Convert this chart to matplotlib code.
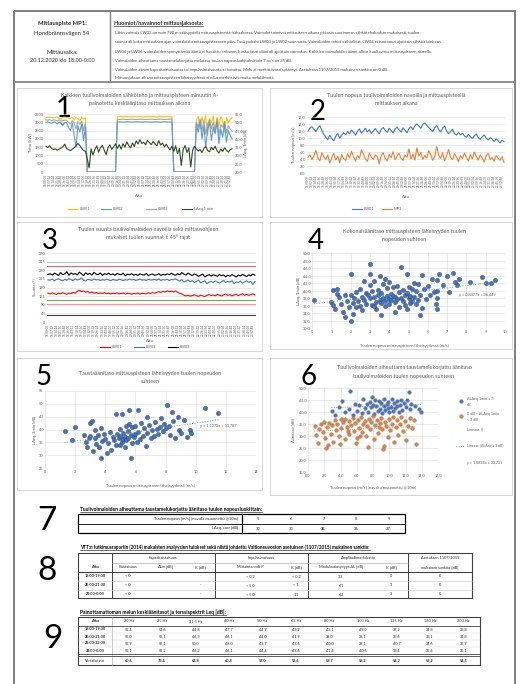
import numpy as np
import matplotlib
matplotlib.use('Agg')
import matplotlib.pyplot as plt
from matplotlib.patches import Rectangle

plt.rcParams['font.family'] = ['Lato', 'DejaVu Sans']

# ---------------- DATA ----------------
# Panel 1: power (kW) of turbines and LAeq,1min (dB)
lw01_power = [3280,3300,3310,3290,3270,3300,3320,3250,3180,3300,3310,3290,3260,3220,3300,3150,3280,3240,3100,3290,3200,3260,
              0,0,0,0,0,0,0,0,0,0,0,0,0,0,0,0,
              3330,3340,3350,3340,3340,3350,3340,3330,3340,3350,3340,3340,3350,3340,3330,3340,3350,3340,3340,3350,3340,3330,3340,3350,3340,3340,3350,3340,3330,3340,
              0,0,0,0,0,0,0,0,0,0,0,0,
              3100,3350,2600,3300,2900,3400,2200,3250,3000,3380,2500,3300,2800,3350,3100,2400,3300,2950,3200,3280]
lw02_power = [3000,3020,2980,2950,3010,3000,2900,3020,2950,2800,3000,2980,2700,2500,2950,2200,1500,2800,2400,2900,1900,2700,
              0,0,0,0,0,0,0,0,0,0,0,0,0,0,0,0,
              3020,3030,3020,3010,3020,3030,3020,3020,3010,3020,3030,3020,3020,3010,3020,3030,3020,3020,3010,3020,3030,3020,3020,3010,3020,3030,3020,3020,3010,3020,
              0,0,0,0,0,0,0,0,0,0,0,0,
              2900,2400,3100,2000,2800,1500,2600,3000,1900,2700,2300,3050,1700,2600,2100,2900,1800,2500,2200,2000]
lw03_power = [3150,3120,3160,3100,3140,3130,3080,3150,3060,3100,3140,3120,3000,2900,3100,2950,2600,3050,2850,3080,2500,2950,
              0,0,0,0,0,0,0,0,0,0,0,0,0,0,0,0,
              3180,3170,3180,3190,3180,3170,3180,3180,3190,3180,3170,3180,3180,3190,3180,3170,3180,3180,3190,3180,3170,3180,3180,3190,3180,3170,3180,3180,3190,3180,
              0,0,0,0,0,0,0,0,0,0,0,0,
              3000,2700,3200,2500,3100,2300,2900,3150,2600,3000,2400,3200,2200,2850,2700,3050,2350,2800,2600,2450]
laeq_1min = [35.5,34.8,35.9,34.2,33.6,34.0,33.1,33.8,34.5,35.2,36.8,34.1,33.5,32.9,33.8,34.6,35.9,37.2,36.0,34.4,33.0,32.5,
             27.8,22.5,34.0,30.2,33.5,35.8,32.0,34.6,36.1,33.2,30.5,34.8,36.4,33.7,35.2,37.0,
             34.2,36.5,33.8,37.1,35.0,38.2,36.0,34.5,37.6,35.3,38.8,36.9,39.5,37.2,38.0,36.4,39.1,37.8,36.5,38.4,37.0,35.8,38.9,36.3,37.5,35.1,36.8,34.9,33.2,35.6,
             32.5,35.8,31.0,34.2,24.0,33.6,36.0,31.8,34.5,23.0,33.0,35.5,
             34.0,32.6,33.5,31.8,34.2,35.5,33.0,32.2,34.8,33.4,35.6,32.8,31.5,33.9,32.4,34.6,33.1,32.0,33.5,34.0]

# Panel 2: wind speed (m/s)
wind_hub = [12.0,12.8,13.2,12.5,11.8,12.9,13.5,12.2,11.0,10.2,9.5,10.8,9.8,9.2,10.5,11.3,10.0,10.8,11.5,10.9,
            11.8,11.2,12.3,11.6,10.8,11.9,12.6,11.4,12.1,12.8,11.7,12.4,11.3,12.0,12.7,11.9,11.2,12.5,13.0,12.2,
            11.6,12.8,12.1,11.4,12.6,13.1,12.3,11.8,12.9,12.2,11.5,12.7,13.2,12.4,13.5,14.0,13.4,12.8,13.9,14.3,
            13.6,13.0,12.4,11.8,12.9,13.6,12.5,11.7,12.8,13.4,12.0,11.2,11.9,12.5,11.3,10.8,11.6,10.9,11.4,10.6,
            10.2,11.0,10.4,9.8,10.6,11.2,10.1,9.6,10.3,10.9,10.0,9.4,10.1,9.7,9.0,9.8,9.2,8.6,9.4,8.9]
wind_mp1 = [4.5,5.2,3.8,4.9,6.5,4.2,3.5,5.8,4.6,3.9,5.1,2.8,4.4,5.6,3.7,4.8,2.9,5.3,4.1,3.6,
            5.5,4.3,6.2,4.7,3.4,5.0,4.2,6.6,5.4,4.0,3.3,5.7,4.5,3.9,5.2,4.6,2.6,4.9,5.8,4.1,
            3.5,5.3,4.4,6.1,3.8,4.9,5.6,4.2,3.6,5.1,4.5,6.9,4.0,5.4,3.7,7.2,4.8,5.9,3.9,5.0,
            4.3,6.4,5.2,3.6,4.7,7.6,5.1,4.2,5.8,3.5,4.9,6.7,4.4,3.8,5.5,4.6,3.2,5.0,4.1,5.7,
            4.5,3.4,5.3,4.0,6.0,4.8,3.7,5.2,4.3,3.1,4.9,5.6,3.9,4.4,3.3,5.0,4.2,3.6,4.7,3.0]

# Panel 3: wind direction (deg)
dir_lw03 = [248,252,245,255,250,243,258,247,251,262,244,256,249,253,246,260,251,242,257,248,
            254,245,259,250,247,256,243,252,248,255,246,251,244,253,249,247,255,241,250,246,
            252,244,249,243,251,247,245,253,242,248,250,244,246,252,243,249,245,251,247,254,
            248,244,252,246,258,250,245,255,248,242,251,246,238,244,250,236,242,247,240,246,
            243,238,248,241,246,236,244,239,247,242,235,245,240,248,243,237,246,241,250,244]
dir_lw02 = [220,218,224,215,222,226,219,214,223,217,228,221,216,225,219,222,230,218,214,223,
            220,217,225,219,222,216,221,218,224,220,215,222,219,217,223,220,216,221,218,225,
            219,222,217,220,224,218,221,216,223,219,220,222,218,224,217,221,219,223,216,222,
            220,226,218,213,221,208,214,219,210,216,206,212,218,204,210,215,200,208,212,205,
            214,209,203,211,217,206,212,208,215,200,210,206,213,202,209,215,207,211,196,212]
dir_lw01 = [150,146,152,148,144,150,147,153,149,145,151,148,155,150,160,166,158,162,155,160,
            152,157,150,154,148,152,149,153,147,151,146,150,148,152,147,149,151,146,150,148,
            145,149,147,151,146,150,148,147,152,149,153,150,155,158,154,160,156,163,158,161,
            157,162,155,150,146,140,136,139,135,138,142,137,134,140,136,133,139,143,138,141,
            137,144,140,136,142,146,139,143,137,141,145,138,142,147,140,144,139,143,146,141]
dir_limits = [315, 292, 117, 94, 38]
dir_limit_colors = ['#9dc3e6', '#ff5b5b', '#70ad47', '#ff8fa3', '#404040']

start_minutes = 18 * 60
step_minutes = 3.6
time_labels = []
for i in range(0, len(laeq_1min), 2):
    m = start_minutes + i * step_minutes
    hh = int(m // 60) % 24
    mm = int(m % 60)
    ss = int(round((m * 60) % 60))
    time_labels.append(f"{hh:02d}:{mm:02d}:{ss:02d}")

# Panel 4: total level vs wind speed at measuring point
p4_x = [0.1,1.0,1.1,1.1,1.2,1.3,1.4,1.5,1.6,1.7,
        1.8,1.9,2.0,2.0,2.1,2.1,2.2,2.3,2.3,2.4,
        2.5,2.5,2.6,2.6,2.7,2.8,2.8,2.9,3.0,3.0,
        3.0,3.1,3.1,3.2,3.2,3.3,3.3,3.4,3.4,3.5,
        3.5,3.6,3.6,3.7,3.7,3.8,3.8,3.9,3.9,4.0,
        4.0,4.0,4.1,4.1,4.2,4.2,4.3,4.3,4.4,4.4,
        4.5,4.5,4.6,4.6,4.7,4.7,4.8,4.8,4.9,4.9,
        5.0,5.0,5.1,5.1,5.2,5.2,5.3,5.3,5.4,5.4,
        5.5,5.5,5.6,5.7,5.8,5.9,6.0,6.1,6.2,6.3,
        6.4,6.5,6.5,6.6,6.8,7.0,7.1,7.3,7.4,7.5,
        7.6,8.2,8.8,9.0,9.3,9.5,2.0,1.7,3.6,5.6,
        3.0,4.3,2.7,3.8,4.9,5.7,6.5,6.5,1.3,3.2]
p4_y = [37.5,37.0,40.2,36.2,35.0,39.0,38.2,36.5,34.3,38.8,
        37.3,35.6,44.5,38.9,36.8,33.7,38.0,35.5,39.6,37.2,
        36.0,40.5,38.3,34.8,37.6,39.3,36.4,38.7,47.0,41.5,
        37.9,36.1,39.8,42.6,38.4,37.0,35.2,40.1,38.9,44.0,
        37.5,36.6,39.4,41.8,38.1,37.2,35.9,40.6,38.6,37.8,
        42.2,36.4,39.1,37.4,38.5,40.9,36.9,38.2,41.3,37.7,
        39.7,35.6,38.0,46.2,37.3,40.2,38.8,36.2,39.4,44.3,
        37.9,41.0,36.8,38.6,40.4,37.1,42.1,38.3,36.5,39.9,
        37.6,41.7,38.7,35.3,40.3,37.8,41.1,38.9,43.2,39.5,
        36.3,42.7,40.0,44.4,41.5,43.9,39.6,44.7,42.3,41.6,
        43.0,42.2,43.6,42.0,41.9,42.8,31.8,33.0,33.4,33.6,
        44.3,34.4,42.6,43.1,35.0,44.2,35.2,38.0,40.5,36.0]

# Panel 5: background level vs wind speed
p5_x = [1.3,2.0,2.6,2.7,2.8,2.9,3.0,3.0,3.1,3.2,
        3.3,3.3,3.4,3.5,3.6,3.7,3.7,3.8,3.9,4.0,
        4.1,4.2,4.3,4.4,4.5,4.6,4.7,4.7,4.8,4.9,
        5.0,5.0,5.0,5.1,5.1,5.2,5.2,5.3,5.3,5.4,
        5.4,5.5,5.5,5.6,5.6,5.7,5.7,5.8,5.8,5.9,
        6.0,6.0,6.1,6.2,6.2,6.3,6.4,6.5,6.6,6.7,
        6.8,6.8,6.9,7.0,7.1,7.2,7.3,7.4,7.5,7.6,
        7.7,7.8,7.9,8.0,8.1,8.2,8.3,8.4,8.5,8.6,
        8.8,8.9,9.0,9.2,9.4,9.6,9.7,10.6,11.5,1.8]
p5_y = [39.5,41.0,38.0,35.2,33.0,36.8,42.5,37.5,43.4,31.5,
        36.6,39.8,34.2,37.9,33.3,28.9,40.6,35.5,38.4,36.2,
        31.0,34.8,39.2,32.2,37.0,35.9,46.2,33.9,38.3,36.7,
        34.1,37.6,40.2,46.0,35.3,36.3,38.8,33.0,37.1,35.8,
        41.5,36.5,39.5,47.5,42.0,28.9,37.8,40.8,34.6,36.9,
        41.2,38.1,35.0,47.5,39.0,36.2,42.4,37.4,40.5,33.4,
        45.0,38.6,41.8,36.8,39.9,37.3,43.0,40.2,38.4,41.0,
        44.5,39.4,42.0,40.6,49.5,41.5,38.0,47.0,43.3,36.8,
        45.0,40.0,38.5,43.8,37.2,39.8,38.6,48.2,46.5,36.0]

# Panel 6: corrected turbine level vs hub wind speed (converted @10 m)
p6_blue_x = [2.9,3.8,4.5,5.0,5.5,5.2,6.0,6.3,6.6,7.0,
             7.2,7.4,7.6,7.8,8.0,8.1,8.3,8.4,8.6,8.7,
             8.9,9.0,9.1,9.3,9.4,9.5,9.7,9.8,9.9,10.0,
             10.2,10.3,10.4,10.6,10.7,10.9,11.0,11.2,11.3,11.5,
             11.6,11.8,12.0,12.2,12.5,12.7,12.4,13.2,13.6,13.9,
             6.8,7.9,5.8,4.2,3.3]
p6_blue_y = [40.5,42.0,39.8,41.2,38.6,48.9,40.3,42.8,39.5,41.6,
             43.5,40.0,44.2,41.9,43.0,39.2,45.0,42.4,40.6,44.6,
             41.3,43.8,39.7,42.7,45.3,40.9,43.3,41.8,44.0,39.9,
             42.2,45.6,40.4,43.6,41.5,44.4,42.6,40.2,43.1,45.0,
             41.0,43.9,42.0,44.8,41.4,43.2,48.2,42.5,41.2,40.0,
             45.5,46.3,43.5,44.4,38.8]
p6_orange_x = [0.8,1.0,1.2,1.4,1.6,1.8,2.0,2.1,2.3,2.5,
               2.6,2.8,3.0,3.1,3.3,3.5,3.6,3.8,4.0,4.1,
               4.3,4.5,4.6,4.8,5.0,5.1,5.3,5.5,5.6,5.8,
               6.0,6.1,6.3,6.5,6.6,6.8,7.0,7.1,7.3,7.5,
               7.6,7.8,8.0,8.1,8.3,8.5,8.6,8.8,9.0,9.1,
               9.3,9.5,9.6,9.8,10.0,10.1,10.3,10.5,10.6,10.8,
               11.0,11.1,11.3,11.5,11.7,11.9,12.1,12.3,12.5,12.8,
               13.0,13.3,9.2,7.4,5.9,3.9,2.2,4.9,6.4,8.7]
p6_orange_y = [34.2,30.5,27.0,33.0,35.1,31.8,36.0,29.2,33.7,26.2,
               35.5,31.0,34.4,27.4,36.5,32.5,34.9,29.9,36.9,33.2,
               35.7,28.6,37.2,33.9,36.2,30.8,34.7,37.6,32.2,35.3,
               29.0,36.6,33.5,37.9,31.5,35.0,36.4,30.2,34.1,37.0,
               32.8,35.8,38.2,28.8,34.6,36.8,31.2,35.4,37.5,33.0,
               26.0,36.0,34.3,29.6,37.1,32.5,35.2,38.0,27.6,33.8,
               36.5,30.6,34.9,37.8,32.0,36.2,28.4,34.0,37.3,33.4,
               36.7,26.6,24.6,25.3,27.2,26.8,24.8,32.0,30.0,33.6]

# Tables
t7_wind = ['5', '6', '7', '8', '9']
t7_level = ['32', '33', '35', '36', '37']
t8_times = ['18:00-19:00', '20:00-21:00', '22:00-0:00']
t8_band = ['< 0', '< 0', '< 0']
t8_band_k = ['-', '-', '-']
t8_imp_p = ['< 0,2', '< 5,0', '< 5,0']
t8_imp_k = ['< 0,2', '< 1', '1,1']
t8_am = ['3,3', '6,1', '6,2']
t8_am_k = ['0', '3', '3']
t8_sanction = ['0', '0', '0']
t9_bands = ['20 Hz', '25 Hz', '31,5 Hz', '40 Hz', '50 Hz', '63 Hz', '80 Hz', '100 Hz', '125 Hz', '160 Hz', '200 Hz']
t9_times = ['18:00-19:00', '20:00-21:00', '21:00-22:00', '23:00-0:00']
t9_leq_1 = ['52,4', '54,6', '44,8', '47,7', '44,9', '43,2', '43,1', '49,0', '37,2', '34,8', '33,8']
t9_leq_2 = ['55,0', '53,1', '46,3', '46,1', '44,0', '41,9', '39,0', '38,1', '35,6', '33,1', '31,8']
t9_leq_3 = ['52,9', '55,1', '50,0', '48,0', '43,7', '43,6', '40,0', '39,1', '40,7', '34,6', '35,9']
t9_leq_4 = ['52,1', '55,2', '46,2', '46,1', '44,4', '43,6', '41,4', '40,6', '38,4', '35,4', '35,1']
t9_ref = ['60,6', '73,4', '64,8', '60,4', '57,0', '58,6', '59,7', '58,2', '54,2', '55,2', '54,5']

# ---------------- FIGURE ----------------
W, H = 526, 684
fig = plt.figure(figsize=(W / 100, H / 100), dpi=100)
fig.patch.set_facecolor('white')
bg = fig.add_axes([0, 0, 1, 1])
bg.set_xlim(0, W)
bg.set_ylim(H, 0)
bg.axis('off')

GRAY = '#595959'
GRID = '#d9d9d9'


def pax(x0, y0, x1, y1):
    a = fig.add_axes([x0 / W, 1 - y1 / H, (x1 - x0) / W, (y1 - y0) / H])
    a.set_facecolor('none')
    return a


def style(a, fs=2.8, xgrid=False):
    for s in a.spines.values():
        s.set_visible(False)
    a.tick_params(length=0, labelsize=fs, colors=GRAY, pad=1.2)
    a.grid(axis='y', color=GRID, lw=0.4)
    if xgrid:
        a.grid(axis='x', color=GRID, lw=0.4)
    a.set_axisbelow(True)


def T(x, y, s, fs=3.4, **kw):
    kw.setdefault('color', GRAY)
    kw.setdefault('va', 'center')
    return bg.text(x, y, s, fontsize=fs, **kw)


def box(x0, y0, x1, y1, ec='#d0d0d0', lw=0.6):
    bg.add_patch(Rectangle((x0, y0), x1 - x0, y1 - y0, fill=False, ec=ec, lw=lw))


def leg_line(x, y, label, color, fs=2.8, lw=0.8):
    bg.plot([x, x + 10], [y, y], color=color, lw=lw)
    T(x + 12, y, label, fs=fs, ha='left')


# outer frame & header
bg.add_patch(Rectangle((14, 11), 501, 690, fill=False, ec='#7f7f7f', lw=1.4))
bg.plot([14, 515], [82, 82], color='#7f7f7f', lw=1.2)
bg.plot([110, 110], [11, 82], color='#7f7f7f', lw=1.0)
T(62, 24, 'Mittauspiste MP1:', fs=4.2, ha='center', color='#262626', weight='bold')
T(62, 33, 'Hondbrännsvägen 54', fs=4.2, ha='center', color='#262626')
T(62, 52, 'Mittausaika:', fs=4.2, ha='center', color='#262626')
T(62, 61, '20.12.2020 klo 18:00-0:00', fs=4.0, ha='center', color='#262626')
underline = []
underline.append(T(114, 23, 'Huomiot/havainnot mittausjaksosta:', fs=4.0, ha='left', color='#262626', weight='bold'))
header_lines = [
    'Lähin voimala LW03 on noin 790 m etäisyydellä mittauspisteestä itäkaakossa. Voimalat toimivat mittauksen aikana pääosin suurimman sähköteholuokan mukaisesti, tuulen',
    'suunta oli koko mittauksen ajan voimaloista mittauspisteeseen päin. Tuuli puhalsi LW03 ja LW02 suunnasta. Voimaloiden tehot vaihtelivat, LW04 ei tuottanut ajoittain sähköä lainkaan.',
    'LW04 ja LW06: voimaloiden synnyttämää ääntä ei havaittu erikseen, koska taustaääni oli ajoittain voimakas. Kaikkien voimaloiden äänet olivat kuultavissa mittauspisteen alueella.',
    'Voimaloiden aiheuttama taustamelukorjattu melutaso tuulen nopeusluokituksittain 7 m/s on 35 dB.',
    'Voimaloiden äänen kapeakaistaisuutta tai impulssimaisuutta ei havaittu. Melu ei merkittävästi sykkinyt. Asetuksen 1107/2015 mukainen sanktio on 0 dB.',
    'Mittausjakson aikana mittauspisteen läheisyydessä ei ollut merkittäviä muita melulähteitä.',
]
for line, yy in zip(header_lines, [33, 42, 52, 61, 70, 78]):
    T(115, yy, line, fs=3.0, ha='left', color='#404040')

# panel boxes
box(17, 88, 262, 217)
box(270, 88, 512, 217)
box(17, 222, 262, 351)
box(270, 222, 512, 349)
box(17, 358, 262, 490)
box(270, 358, 512, 495)

# ---------- Panel 1 ----------
n = len(laeq_1min)
idx = np.arange(n)
a1 = pax(45, 114, 233, 172)
style(a1)
a1.plot(idx, lw01_power, color='#ffc000', lw=0.8)
a1.plot(idx, lw03_power, color='#a5a5a5', lw=0.8)
a1.plot(idx, lw02_power, color='#5b9bd5', lw=0.8)
a1.set_xlim(-0.5, n - 0.5)
a1.set_ylim(0, 3500)
a1.set_yticks(np.arange(0, 3501, 500))
a1.set_xticks(idx[::2])
a1.set_xticklabels(time_labels, rotation=90, fontsize=2.2)
a1.set_ylabel('Teho (kW)', fontsize=3.0, color=GRAY, labelpad=1.5)
a1b = a1.twinx()
a1b.set_facecolor('none')
for s in a1b.spines.values():
    s.set_visible(False)
a1b.plot(idx, laeq_1min, color='#2f4a1e', lw=0.8)
a1b.set_ylim(20, 55)
a1b.set_yticks(np.arange(20, 56, 5))
a1b.set_yticklabels([f'{v:.1f}'.replace('.', ',') for v in np.arange(20, 56, 5)])
a1b.tick_params(length=0, labelsize=2.8, colors=GRAY, pad=1.2)
a1b.set_ylabel('LAeq, 1min (dB)', fontsize=3.0, color=GRAY, labelpad=1.5)
T(140, 96, 'Kaikkien tuulivoimaloiden sähköteho ja mittauspisteen minuutin A-', fs=3.9, ha='center')
T(140, 103.5, 'painotettu keskiäänitaso mittauksen aikana', fs=3.9, ha='center')
T(139, 196, 'Aika', fs=3.0, ha='center')
leg_line(68, 209, 'LW01', '#ffc000')
leg_line(101, 209, 'LW02', '#5b9bd5')
leg_line(146, 209, 'LW03', '#a5a5a5')
leg_line(182, 209, 'LAeq,1 min', '#2f4a1e')
T(64, 109, '1', fs=20, ha='center', color='black')

# ---------- Panel 2 ----------
a2 = pax(307, 117, 505, 173)
style(a2)
a2.plot(idx, wind_hub, color='#4472c4', lw=0.8)
a2.plot(idx, wind_mp1, color='#ed7d31', lw=0.8)
a2.set_xlim(-0.5, n - 0.5)
a2.set_ylim(0, 16)
a2.set_yticks(np.arange(0, 17, 2))
a2.set_yticklabels([f'{v:.1f}'.replace('.', ',') for v in np.arange(0, 17, 2)])
a2.set_xticks(idx[::2])
a2.set_xticklabels(time_labels, rotation=90, fontsize=2.2)
a2.set_ylabel('Tuulen nopeus (m/s)', fontsize=3.0, color=GRAY, labelpad=1.5)
T(396, 96, 'Tuulen nopeus tuulivoimaloiden navoilla ja mittauspisteellä', fs=3.9, ha='center')
T(396, 103.5, 'mittauksen aikana', fs=3.9, ha='center')
T(406, 197, 'Aika', fs=3.0, ha='center')
leg_line(352, 209, 'LW01', '#4472c4')
leg_line(382, 209, 'MP1', '#ed7d31')
T(318, 112, '2', fs=20, ha='center', color='black')

# ---------- Panel 3 ----------
a3 = pax(47, 253, 256, 322)
style(a3)
for lvl, c in zip(dir_limits, dir_limit_colors):
    a3.axhline(lvl, color=c, lw=0.8)
a3.plot(idx, dir_lw01, color='#ff0000', lw=0.8)
a3.plot(idx, dir_lw02, color='#4472c4', lw=0.8)
a3.plot(idx, dir_lw03, color='#000000', lw=0.8)
a3.set_xlim(-0.5, n - 0.5)
a3.set_ylim(0, 360)
a3.set_yticks(np.arange(0, 361, 45))
a3.set_xticks(idx[::2])
a3.set_xticklabels(time_labels, rotation=90, fontsize=2.2)
a3.set_ylabel('Suunta (°)', fontsize=3.0, color=GRAY, labelpad=1.5)
T(148, 230, 'Tuulen suunta tuulivoimaloiden navoilla sekä mittausohjeen', fs=3.9, ha='center')
T(148, 237.5, 'mukaiset tuulen suunnat ± 45° rajat', fs=3.9, ha='center')
T(150, 341.5, 'Aika', fs=3.0, ha='center')
leg_line(100, 347, 'LW01', '#ff0000')
leg_line(134, 347, 'LW02', '#4472c4')
leg_line(168, 347, 'LW03', '#000000')
T(50, 241, '3', fs=20, ha='center', color='black')

# ---------- Panel 4 ----------
a4 = pax(312, 253, 505, 328)
style(a4, xgrid=True)
a4.scatter(p4_x, p4_y, s=9, color='#4472c4', edgecolors='#203864', linewidths=0.3, zorder=3)
c4 = np.polyfit(p4_x, p4_y, 1)
xx4 = np.array([min(p4_x), max(p4_x)])
a4.plot(xx4, np.polyval(c4, xx4), ls=':', color='#5b9bd5', lw=0.7, zorder=4)
a4.text(7.6, 38.8, 'y = 0,8477x + 36,449', fontsize=2.8, color=GRAY, va='center')
a4.set_xlim(0, 10)
a4.set_ylim(30, 50)
a4.set_xticks(np.arange(0, 11, 1))
a4.set_yticks(np.arange(30, 51, 2))
a4.set_yticklabels([f'{v:.1f}'.replace('.', ',') for v in np.arange(30, 51, 2)])
a4.set_ylabel('LAeq, 1min (dB)', fontsize=3.0, color=GRAY, labelpad=1.5)
T(404, 232, 'Kokonaisäänitaso mittauspisteen läheisyyden tuulen', fs=3.9, ha='center')
T(404, 239.5, 'nopeuden suhteen', fs=3.9, ha='center')
T(404, 346, 'Tuulen nopeus mittauspisteen läheisyydessä (m/s)', fs=3.0, ha='center')
T(316, 241, '4', fs=20, ha='center', color='black')

# ---------- Panel 5 ----------
a5 = pax(45, 391, 256, 468)
style(a5, xgrid=True)
a5.scatter(p5_x, p5_y, s=9, color='#4472c4', edgecolors='#203864', linewidths=0.3, zorder=3)
c5 = np.polyfit(p5_x, p5_y, 1)
xx5 = np.array([min(p5_x), max(p5_x)])
a5.plot(xx5, np.polyval(c5, xx5), ls=':', color='#5b9bd5', lw=0.7, zorder=4)
a5.text(10.3, 41.4, 'y = 1,1372x + 31,787', fontsize=2.8, color=GRAY, va='center')
a5.set_xlim(0, 14)
a5.set_ylim(25, 55)
a5.set_xticks(np.arange(0, 15, 2))
a5.set_yticks(np.arange(25, 56, 5))
a5.set_ylabel('LAeq, 1min (dB)', fontsize=3.0, color=GRAY, labelpad=1.5)
T(150, 373, 'Taustaäänitaso mittauspisteen läheisyyden tuulen nopeuden', fs=3.9, ha='center')
T(150, 381.5, 'suhteen', fs=3.9, ha='center')
T(150, 486, 'Tuulen nopeus mittauspisteen läheisyydessä (m/s)', fs=3.0, ha='center')
T(44, 377, '5', fs=20, ha='center', color='black')

# ---------- Panel 6 ----------
a6 = pax(308, 388, 438, 472)
style(a6, xgrid=True)
a6.scatter(p6_blue_x, p6_blue_y, s=7, color='#4472c4', edgecolors='#7f7f7f', linewidths=0.3, zorder=3)
a6.scatter(p6_orange_x, p6_orange_y, s=7, color='#ed7d31', edgecolors='#7f7f7f', linewidths=0.3, zorder=3)
cb = np.polyfit(p6_blue_x, p6_blue_y, 1)
co = np.polyfit(p6_orange_x, p6_orange_y, 1)
xb = np.array([min(p6_blue_x), max(p6_blue_x)])
xo = np.array([min(p6_orange_x), max(p6_orange_x)])
a6.plot(xb, np.polyval(cb, xb), ls=':', color='#4472c4', lw=0.6, zorder=4)
a6.plot(xo, np.polyval(co, xo), ls=':', color='#ed7d31', lw=0.6, zorder=4)
a6.set_xlim(0, 16)
a6.set_ylim(15, 50)
a6.set_xticks(np.arange(0, 17, 2))
a6.set_xticklabels([f'{v:.1f}'.replace('.', ',') for v in np.arange(0, 17, 2)])
a6.set_yticks(np.arange(15, 51, 5))
a6.set_yticklabels([f'{v:.1f}'.replace('.', ',') for v in np.arange(15, 51, 5)])
a6.set_ylabel('Äänitaso (dB)', fontsize=3.0, color=GRAY, labelpad=1.5)
T(404, 368, 'Tuulivoimaloiden aiheuttama taustamelukorjattu äänitaso', fs=3.9, ha='center')
T(404, 376.5, 'tuulivoimaloiden tuulen nopeuden suhteen', fs=3.9, ha='center')
T(373, 488, 'Tuulen nopeus [m/s] (navalta muunnettu @10m)', fs=3.0, ha='center')
T(309, 377, '6', fs=20, ha='center', color='black')
bg.scatter([461], [401], s=7, color='#4472c4', edgecolors='#7f7f7f', linewidths=0.3)
T(467, 399, 'ΔLAeq,1min ≥ 3', fs=2.7, ha='left')
T(467, 405, 'dB', fs=2.7, ha='left')
bg.scatter([461], [416], s=7, color='#ed7d31', edgecolors='#7f7f7f', linewidths=0.3)
T(467, 414, '0 dB < ΔLAeq,1min', fs=2.7, ha='left')
T(467, 420, '< 3 dB', fs=2.7, ha='left')
T(467, 429, 'Lineaar. ()', fs=2.7, ha='left')
bg.plot([456, 465], [446, 446], color='#4472c4', lw=0.6, ls=':')
T(467, 446, 'Lineaar. (ΔLAeq ≥ 3 dB)', fs=2.5, ha='left')
T(467, 463, 'y = 1,0834x + 33,711', fs=2.7, ha='left')

# ---------- Table 7 ----------
T(47, 521, '7', fs=24, ha='center', color='black')
underline.append(T(80, 509, 'Tuulivoimaloiden aiheuttama taustamelukorjattu äänitaso tuulen nopeusluokittain:', fs=3.6, ha='left', color='black', weight='bold'))
box(78, 514, 405, 533, ec='black', lw=0.9)
bg.plot([78, 405], [523.5, 523.5], color='black', lw=0.6)
bg.plot([242, 242], [514, 533], color='black', lw=0.9)
T(238, 519, 'Tuulen nopeus [m/s] (navalla muunnettu @10m)', fs=2.9, ha='right', color='#262626')
T(238, 528.5, 'LAeq, corr [dB]', fs=2.9, ha='right', color='#262626')
cw7 = (405 - 242) / len(t7_wind)
for i, (w, l) in enumerate(zip(t7_wind, t7_level)):
    cx = 242 + cw7 * (i + 0.5)
    T(cx, 519, w, fs=3.0, ha='center', color='#262626')
    T(cx, 528.5, l, fs=3.0, ha='center', color='#262626', weight='bold' if w == '7' else 'normal')

# ---------- Table 8 ----------
T(47, 571, '8', fs=24, ha='center', color='black')
underline.append(T(80, 547, 'VTT:n tutkimusraportin (2014) mukaisten analyysien tulokset sekä niistä johdettu Valtioneuvoston asetuksen (1107/2015) mukainen sanktio:', fs=3.35, ha='left', color='black', weight='bold'))
box(78, 553, 472, 598, ec='#404040', lw=0.8)
for xv in [112, 215, 308, 408]:
    bg.plot([xv, xv], [553, 598], color='#404040', lw=0.7)
bg.plot([112, 408], [562.5, 562.5], color='#a0a0a0', lw=0.4)
bg.plot([78, 472], [571.5, 571.5], color='#404040', lw=0.8)
bg.plot([78, 472], [580.5, 580.5], color='#bfbfbf', lw=0.4)
bg.plot([78, 472], [589.5, 589.5], color='#bfbfbf', lw=0.4)
T(163, 558, 'Kapeakaistaisuus', fs=2.8, ha='center', color='#262626')
T(261, 558, 'Impulssimaisuus', fs=2.8, ha='center', color='#262626')
T(358, 558, 'Amplitudimodulaatio', fs=2.8, ha='center', color='#262626')
T(440, 558, 'Asetuksen 1107/2015', fs=2.8, ha='center', color='#262626')
T(440, 567, 'mukainen sanktio [dB]', fs=2.8, ha='center', color='#262626')
T(95, 567, 'Aika', fs=2.8, ha='center', color='#262626', weight='bold')
T(128, 567, 'Kaistaisuus', fs=2.8, ha='center', color='#262626')
T(166, 567, r'$\Delta L_{ta}$ [dB]', fs=2.8, ha='center', color='#262626')
T(200, 567, 'K [dB]', fs=2.8, ha='center', color='#262626')
T(250, 567, 'Mittaintervalli P', fs=2.8, ha='center', color='#262626')
T(296, 567, 'K [dB]', fs=2.8, ha='center', color='#262626')
T(341, 567, 'Modulaatiosyvyys ΔL [dB]', fs=2.8, ha='center', color='#262626')
T(391, 567, 'K [dB]', fs=2.8, ha='center', color='#262626')
for i, yy in enumerate([576, 585, 594]):
    T(95, yy, t8_times[i], fs=2.7, ha='center', color='#262626', weight='bold')
    T(128, yy, t8_band[i], fs=2.8, ha='center', color='#262626')
    T(200, yy, t8_band_k[i], fs=2.8, ha='center', color='#262626')
    T(250, yy, t8_imp_p[i], fs=2.8, ha='center', color='#262626')
    T(296, yy, t8_imp_k[i], fs=2.8, ha='center', color='#262626')
    T(341, yy, t8_am[i], fs=2.8, ha='center', color='#262626')
    T(391, yy, t8_am_k[i], fs=2.8, ha='center', color='#262626')
    T(440, yy, t8_sanction[i], fs=2.8, ha='center', color='#262626')

# ---------- Table 9 ----------
T(53, 639, '9', fs=24, ha='center', color='black')
underline.append(T(80, 612, 'Painottamattoman melun keskiäänitasot ja terssispektrit Leq [dB]:', fs=3.6, ha='left', color='black', weight='bold'))
box(78, 617, 480, 665, ec='#404040', lw=0.8)
bg.plot([112, 112], [617, 665], color='#a0a0a0', lw=0.4)
bg.plot([78, 480], [626, 626], color='#404040', lw=0.6)
for yv in [633, 640, 647]:
    bg.plot([78, 480], [yv, yv], color='#d0d0d0', lw=0.3)
bg.plot([78, 480], [654, 654], color='#404040', lw=0.6)
bg.plot([78, 480], [656, 656], color='#404040', lw=0.6)
cw9 = (480 - 112) / len(t9_bands)
T(95, 621.5, 'Aika', fs=2.8, ha='center', color='#262626', weight='bold')
rows9 = [t9_leq_1, t9_leq_2, t9_leq_3, t9_leq_4]
for j, b in enumerate(t9_bands):
    cx = 112 + cw9 * (j + 0.5)
    T(cx, 621.5, b, fs=2.8, ha='center', color='#262626')
    for r, yy in zip(rows9, [629.5, 636.5, 643.5, 650.5]):
        T(cx, yy, r[j], fs=2.8, ha='center', color='#262626')
    T(cx, 660.5, t9_ref[j], fs=2.8, ha='center', color='#262626', weight='bold')
for t, yy in zip(t9_times, [629.5, 636.5, 643.5, 650.5]):
    T(95, yy, t, fs=2.7, ha='center', color='#262626', weight='bold')
T(95, 660.5, 'Vertailutaso', fs=2.7, ha='center', color='#262626')

# underlines
fig.canvas.draw()
inv = bg.transData.inverted()
for t in underline:
    bb = t.get_window_extent()
    (x0, y0), (x1, y1) = inv.transform([(bb.x0, bb.y0), (bb.x1, bb.y1)])
    yb = max(y0, y1)
    bg.plot([x0, x1], [yb, yb], color='black', lw=0.4)

fig.savefig('out.png', dpi=100, facecolor='white')
